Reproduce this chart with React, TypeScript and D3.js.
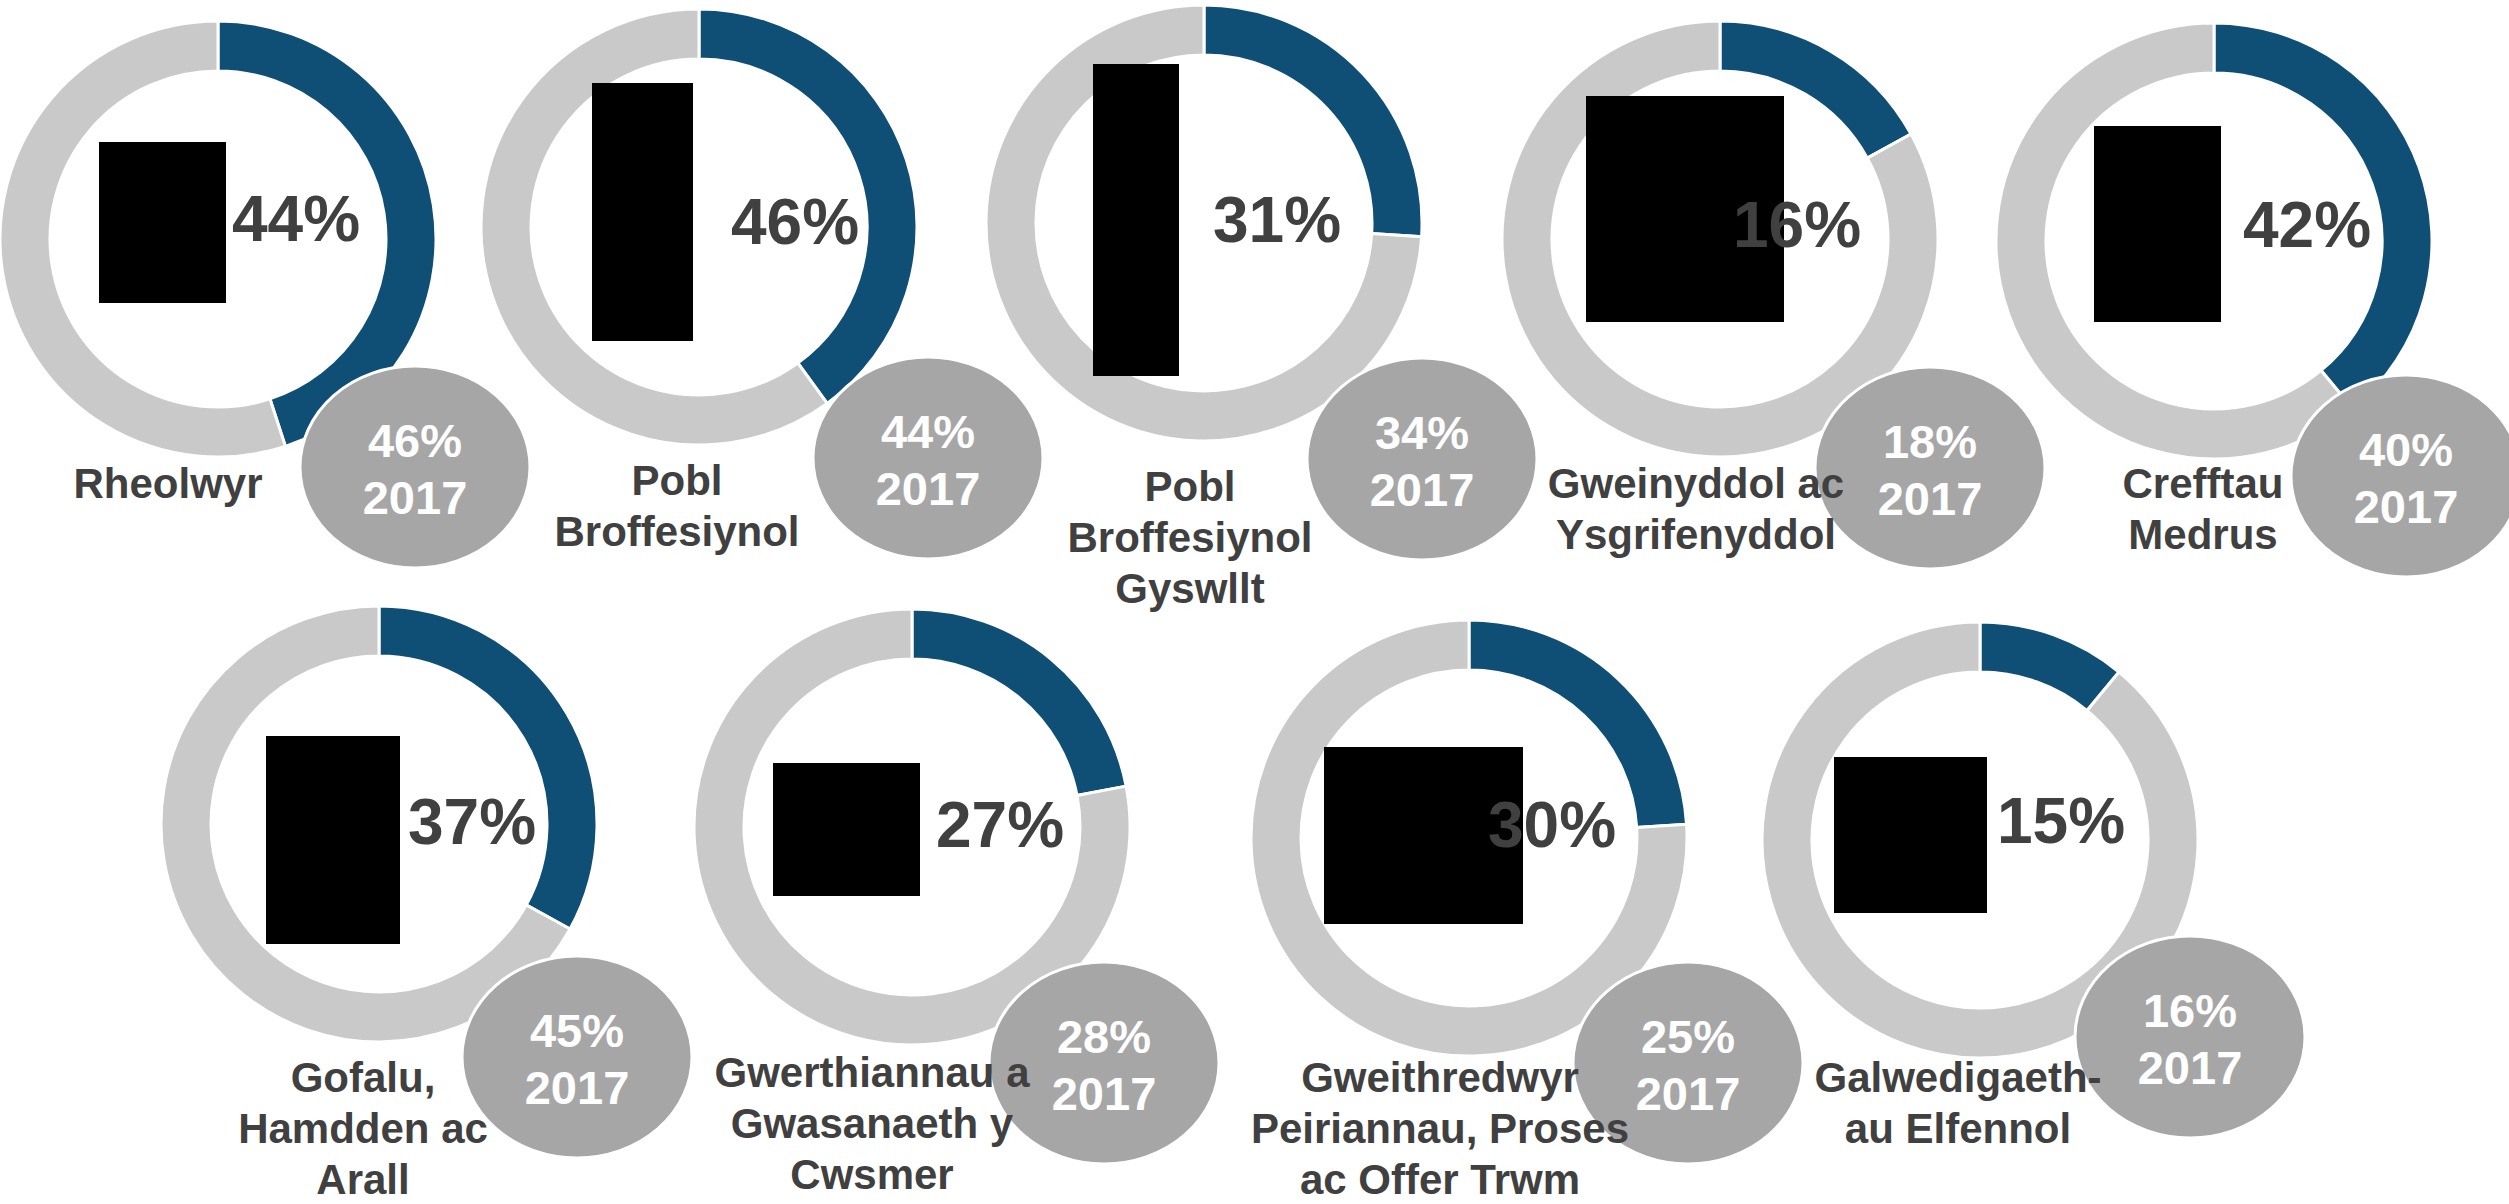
import * as d3 from 'd3';

// occupation groups (label lines as printed)
const categories: string[][] = [
  ['Rheolwyr'],
  ['Pobl', 'Broffesiynol'],
  ['Pobl', 'Broffesiynol', 'Gyswllt'],
  ['Gweinyddol ac', 'Ysgrifenyddol'],
  ['Crefftau', 'Medrus'],
  ['Gofalu,', 'Hamdden ac', 'Arall'],
  ['Gwerthiannau a', 'Gwasanaeth y', 'Cwsmer'],
  ['Gweithredwyr', 'Peiriannau, Proses', 'ac Offer Trwm'],
  ['Galwedigaeth-', 'au Elfennol'],
];
const current = [44, 46, 31, 16, 42, 37, 27, 30, 15];
const prior = [46, 44, 34, 18, 40, 45, 28, 25, 16];
const priorYear = '2017';
// share filled by the blue ring as it is drawn in the source (not always the printed %)
const arcShare = [45, 40, 26, 17, 39, 33, 22, 24, 11];

// where each panel sits: donut centre, % text, 2017 bubble, label, redacted icon box
const panels = [
  { cx: 218, cy: 239, px: 232, py: 241, bx: 415, by: 467, lx: 168, ly: 498, icon: [99, 142, 226, 303] },
  { cx: 699, cy: 227, px: 731, py: 244, bx: 928, by: 458, lx: 677, ly: 495, icon: [592, 83, 693, 341] },
  { cx: 1204, cy: 223, px: 1213, py: 242, bx: 1422, by: 459, lx: 1190, ly: 501, icon: [1093, 64, 1179, 376] },
  { cx: 1720, cy: 239, px: 1733, py: 247, bx: 1930, by: 468, lx: 1696, ly: 498, icon: [1586, 96, 1784, 322] },
  { cx: 2214, cy: 241, px: 2243, py: 247, bx: 2406, by: 476, lx: 2203, ly: 498, icon: [2094, 126, 2221, 322] },
  { cx: 379, cy: 824, px: 408, py: 844, bx: 577, by: 1057, lx: 363, ly: 1092, icon: [266, 736, 400, 944] },
  { cx: 912, cy: 827, px: 936, py: 847, bx: 1104, by: 1063, lx: 872, ly: 1087, icon: [773, 763, 920, 896] },
  { cx: 1469, cy: 838, px: 1488, py: 847, bx: 1688, by: 1063, lx: 1440, ly: 1092, icon: [1324, 747, 1523, 924] },
  { cx: 1980, cy: 840, px: 1997, py: 843, bx: 2190, by: 1037, lx: 1958, ly: 1092, icon: [1834, 757, 1987, 913] },
];

const WIDTH = 2509;
const HEIGHT = 1204;
const BLUE = '#104F75';
const RING = '#C9C9C9';
const BUBBLE = '#A6A6A6';
const TEXT = '#404040';
const FONT = '"Liberation Sans", Arial, sans-serif';

export default function App() {
  const pie = d3.pie<number>().value(d => d).sort(null);
  const arc = d3.arc<d3.PieArcDatum<number>>().innerRadius(168).outerRadius(218);

  return (
    <svg
      width={WIDTH}
      height={HEIGHT}
      viewBox={`0 0 ${WIDTH} ${HEIGHT}`}
      style={{ position: 'absolute', left: 0, top: 0, background: '#fff' }}
      fontFamily={FONT}
      fontWeight="bold"
    >
      {categories.map((lines, i) => {
        const p = panels[i];
        const slices = pie([arcShare[i], 100 - arcShare[i]]);
        const [x0, y0, x1, y1] = p.icon;
        return (
          <g key={i}>
            <g transform={`translate(${p.cx},${p.cy})`}>
              {slices.map((s, j) => (
                <path
                  key={j}
                  d={arc(s) || ''}
                  fill={j === 0 ? BLUE : RING}
                  stroke="#fff"
                  strokeWidth={3}
                />
              ))}
            </g>
            <rect x={x0} y={y0} width={x1 - x0} height={y1 - y0} fill="#000" />
            <text x={p.px} y={p.py} fontSize={64} fill={TEXT}>
              {current[i]}%
            </text>
            <ellipse cx={p.bx} cy={p.by} rx={115} ry={101} fill={BUBBLE} stroke="#fff" strokeWidth={3} />
            <text x={p.bx} y={p.by - 10} fontSize={47} fill="#fff" textAnchor="middle">
              {prior[i]}%
            </text>
            <text x={p.bx} y={p.by + 47} fontSize={47} fill="#fff" textAnchor="middle">
              {priorYear}
            </text>
            {lines.map((line, k) => (
              <text key={k} x={p.lx} y={p.ly + k * 51} fontSize={42} fill={TEXT} textAnchor="middle">
                {line}
              </text>
            ))}
          </g>
        );
      })}
    </svg>
  );
}
